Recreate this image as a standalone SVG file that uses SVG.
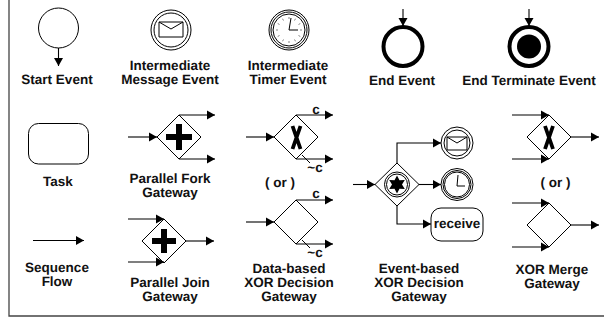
<svg xmlns="http://www.w3.org/2000/svg" xmlns:xlink="http://www.w3.org/1999/xlink" width="604" height="320" viewBox="0 0 604 320">
<style>
text{font-family:"Liberation Sans",Arial,sans-serif;font-weight:bold;font-size:13.500px;text-anchor:middle;fill:#111;text-rendering:geometricPrecision}
.l{fill:none;stroke:#000;stroke-width:1}
.s{fill:#fff;stroke:#000;stroke-width:1}
.t{fill:none;stroke:#000;stroke-width:1}
.k{fill:none;stroke:#333;stroke-width:.6}
.c{stroke:#000;stroke-width:1.1;fill:none;marker-end:url(#a)}
.p{stroke:#000;stroke-width:6;fill:none}
.x{stroke:#000;stroke-width:3.800;fill:none}
.b{fill:#fff;stroke:#000;stroke-width:4}
</style>
<defs>
<marker id="a" markerUnits="userSpaceOnUse" markerWidth="10" markerHeight="10" refX="9" refY="5" orient="auto"><path d="M1 .5L9 5L1 9.500Z" fill="#000"/></marker>
<symbol id="clock" overflow="visible"><path class="k" d="M0-13V-11M0 13V11M-13 0H-11M13 0H11M6.500-11.300L5.500-9.500M11.300-6.500L9.500-5.500M11.300 6.500L9.500 5.500M6.500 11.300L5.500 9.500M-6.500 11.300L-5.500 9.500M-11.300 6.500L-9.500 5.500M-11.300-6.500L-9.500-5.500M-6.500-11.300L-5.500-9.500"/></symbol>
</defs>
<path id="frame" d="M9 0V316H604" fill="none" stroke="#444" stroke-width="1.300"/>
<g id="start-event"><circle class="s" cx="58.500" cy="28" r="20"/><text x="57" y="84">Start Event</text></g>
<g id="message-event"><circle class="s" cx="171" cy="30" r="20"/><circle class="s" cx="171" cy="30" r="17"/><path class="t" d="M159 22H183V37H159ZM159 22L171 29L183 22"/><text x="170" y="70">Intermediate</text><text x="170" y="84">Message Event</text></g>
<g id="timer-event"><circle class="s" cx="289" cy="30" r="20"/><circle class="s" cx="289" cy="30" r="18"/><circle class="s" cx="289" cy="30" r="16"/><path class="t" d="M291 18L289 30H298"/><use xlink:href="#clock" x="289" y="30"/><text x="288" y="70">Intermediate</text><text x="288" y="84">Timer Event</text></g>
<g id="end-event"><circle class="b" cx="403" cy="46.500" r="19.500"/><text x="402" y="85">End Event</text></g>
<g id="end-terminate-event"><circle class="b" cx="529" cy="46.500" r="19.500"/><circle cx="529" cy="46.500" r="12"/><text x="529" y="85">End Terminate Event</text></g>
<g id="task"><rect class="s" x="28.500" y="123.500" width="60" height="40.500" rx="10"/><text x="58" y="186">Task</text></g>
<g id="parallel-fork"><path class="s" d="M179 115L201 137L179 159L157 137Z"/><path class="p" d="M166 137H192M179 124V150"/><text x="170" y="183">Parallel Fork</text><text x="170" y="197">Gateway</text></g>
<g id="sequence-flow"><text x="57" y="272">Sequence</text><text x="57" y="286">Flow</text></g>
<g id="parallel-join"><path class="s" d="M164 219L186 241L164 263L142 241Z"/><path class="p" d="M152 241H176M164 229V253"/><text x="170" y="287">Parallel Join</text><text x="170" y="301">Gateway</text></g>
<g id="xor-decision-x"><path class="s" d="M296 115L318 137L296 159L274 137Z"/><path class="x" d="M292.500 126L300.500 149M300.500 126L292.500 149"/><text x="316" y="114">c</text><text x="315" y="172">~c</text><text x="280" y="187">( or )</text></g>
<g id="xor-decision"><path class="s" d="M296 200L318 222L296 244L274 222Z"/><text x="316" y="198">c</text><text x="315" y="257">~c</text><text x="289" y="273">Data-based</text><text x="289" y="287">XOR Decision</text><text x="289" y="301">Gateway</text></g>
<g id="event-gateway"><path class="s" d="M397 163L419 184.500L397 206L375 184.500Z"/><circle class="s" cx="397" cy="184.500" r="12.500"/><circle class="s" cx="397" cy="184.500" r="10.500"/><path d="M397 175.500L399.500 180.200L404.800 180L402 184.500L404.800 189L399.500 188.800L397 193.500L394.500 188.800L389.200 189L392 184.500L389.200 180L394.500 180.200Z"/><text x="419" y="273">Event-based</text><text x="419" y="287">XOR Decision</text><text x="419" y="301">Gateway</text></g>
<g id="event-message"><circle class="s" cx="457" cy="143" r="16"/><circle class="s" cx="457" cy="143" r="13"/><path class="t" d="M447 137H467V150H447ZM447 137L457 143L467 137"/></g>
<g id="event-timer"><circle class="s" cx="457" cy="184.500" r="16"/><circle class="s" cx="457" cy="184.500" r="14"/><circle class="s" cx="457" cy="184.500" r="12.500"/><path class="t" d="M458 175L457 186H465"/></g>
<g id="event-receive"><rect class="s" x="431" y="208" width="52" height="33" rx="10"/><text x="457" y="228">receive</text></g>
<g id="xor-merge-x"><path class="s" d="M549 115L571 137L549 159L527 137Z"/><path class="x" d="M545 126L553 149M553 126L545 149"/><text x="555.500" y="187">( or )</text></g>
<g id="xor-merge"><path class="s" d="M549 203L571 225L549 247L527 225Z"/><text x="552" y="274">XOR Merge</text><text x="552" y="288">Gateway</text></g>
<g id="connectors">
<path class="c" d="M58.500 48V66"/>
<path class="c" d="M403 9V26"/>
<path class="c" d="M529 9V26"/>
<path class="c" d="M128 137H157"/>
<path class="c" d="M179 115H215"/>
<path class="c" d="M179 159H215"/>
<path class="c" d="M33 240.500H84"/>
<path class="c" d="M128 219H164"/>
<path class="c" d="M128 262H164"/>
<path class="c" d="M186 241H214"/>
<path class="c" d="M246 137H274"/>
<path class="c" d="M296 115H333"/>
<path class="c" d="M296 159H333"/>
<path class="l" d="M302 155L310 163"/>
<path class="c" d="M246 222H274"/>
<path class="c" d="M296 200H333"/>
<path class="c" d="M296 244H333"/>
<path class="l" d="M302 240L310 248"/>
<path class="c" d="M353 184.500H375"/>
<path class="c" d="M397 163V143H441"/>
<path class="c" d="M419 184.500H441"/>
<path class="c" d="M397 206V224H431"/>
<path class="c" d="M512 115H549"/>
<path class="c" d="M512 159H549"/>
<path class="c" d="M571 137H599"/>
<path class="c" d="M512 203H549"/>
<path class="c" d="M512 247H549"/>
<path class="c" d="M571 225H599"/>
</g>
</svg>
